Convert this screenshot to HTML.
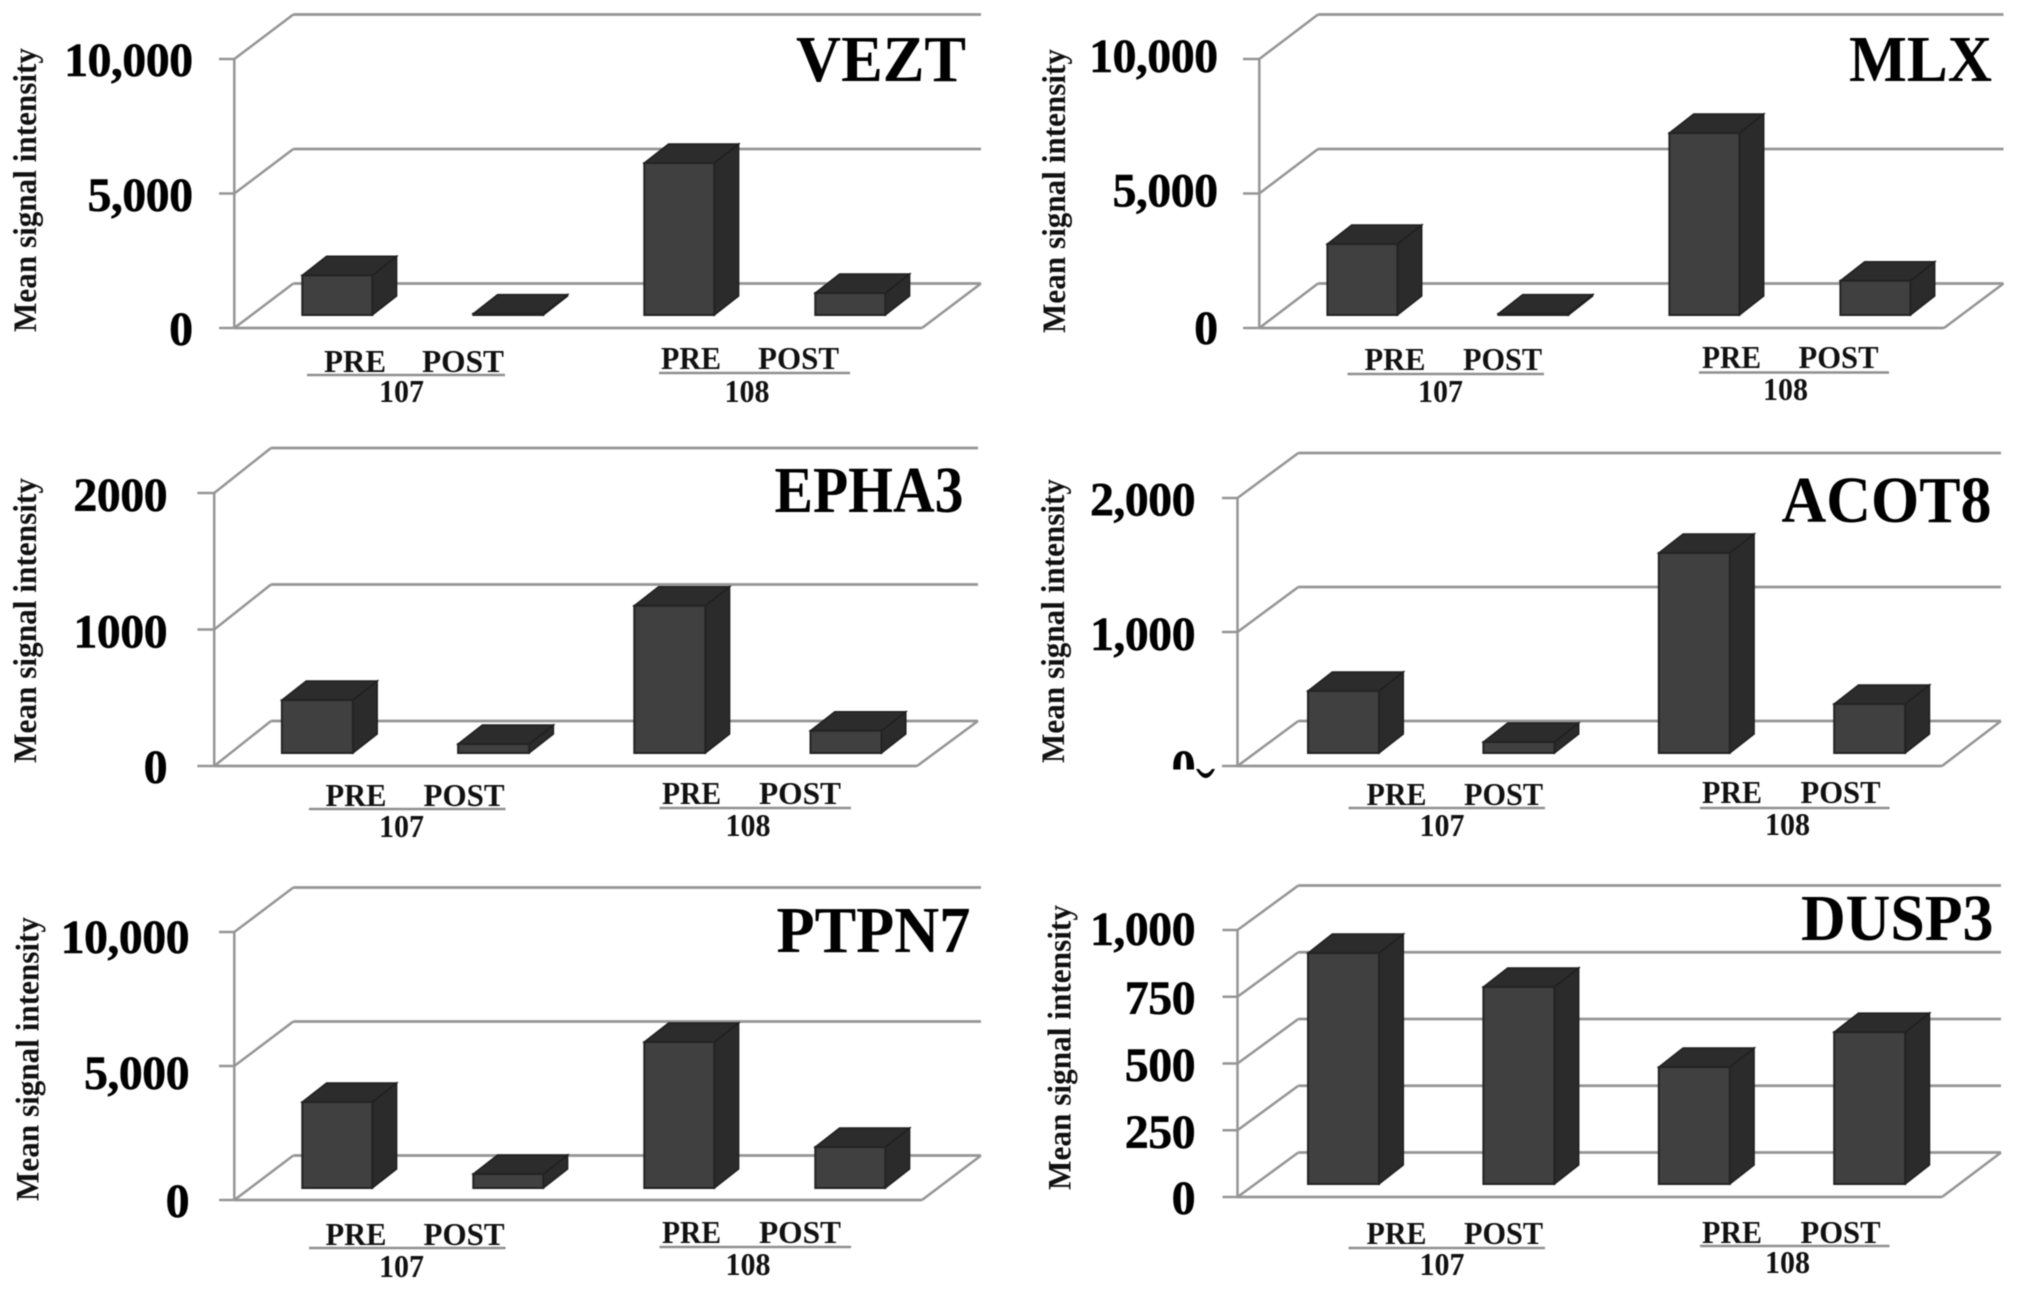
<!DOCTYPE html>
<html lang="en">
<head>
<meta charset="utf-8">
<title>Mean signal intensity of six genes, pre and post</title>
<style>
html,body{margin:0;padding:0;background:#fff;}
svg{display:block;filter:blur(0.6px);}
text{font-family:"Liberation Serif",serif;font-weight:bold;fill:#000;}
.title{font-size:66px;}
.ytitle{font-size:33px;fill:#111;}
.cond{font-size:32px;fill:#111;}
.tick{font-size:48px;stroke:#000;stroke-width:0.5px;text-anchor:end;letter-spacing:-0.6px;}
</style>
</head>
<body>
<svg id="figure" xmlns="http://www.w3.org/2000/svg" width="2031" height="1299" viewBox="0 0 2031 1299">
<rect width="2031" height="1299" fill="#fff"/>
<defs><clipPath id="zero-clip"><rect x="1160" y="745" width="36" height="24.5"/></clipPath></defs>
<g id="marks"></g>

<text class="title" x="796" y="81" textLength="170" lengthAdjust="spacingAndGlyphs">VEZT</text>
<text class="ytitle" transform="translate(36,332) rotate(-90)" textLength="284" lengthAdjust="spacingAndGlyphs">Mean signal intensity</text>
<text class="cond" x="324" y="372" textLength="62" lengthAdjust="spacingAndGlyphs">PRE</text>
<text class="cond" x="422" y="372" textLength="82" lengthAdjust="spacingAndGlyphs">POST</text>
<text class="cond" x="379" y="402" textLength="45" lengthAdjust="spacingAndGlyphs">107</text>
<text class="cond" x="661" y="369" textLength="60" lengthAdjust="spacingAndGlyphs">PRE</text>
<text class="cond" x="758" y="369" textLength="81" lengthAdjust="spacingAndGlyphs">POST</text>
<text class="cond" x="724.5" y="402" textLength="45" lengthAdjust="spacingAndGlyphs">108</text>
<line x1="307" x2="505" y1="375" y2="375" stroke="#8f8f8f" stroke-width="2.5"/>
<line x1="659" x2="850" y1="373" y2="373" stroke="#8f8f8f" stroke-width="2.5"/>

<text class="title" x="1849" y="81" textLength="143" lengthAdjust="spacingAndGlyphs">MLX</text>
<text class="ytitle" transform="translate(1065,333) rotate(-90)" textLength="284" lengthAdjust="spacingAndGlyphs">Mean signal intensity</text>
<text class="cond" x="1364.5" y="370" textLength="61" lengthAdjust="spacingAndGlyphs">PRE</text>
<text class="cond" x="1463" y="370" textLength="79" lengthAdjust="spacingAndGlyphs">POST</text>
<text class="cond" x="1418" y="402" textLength="45" lengthAdjust="spacingAndGlyphs">107</text>
<text class="cond" x="1702" y="368" textLength="59" lengthAdjust="spacingAndGlyphs">PRE</text>
<text class="cond" x="1798.5" y="368" textLength="80" lengthAdjust="spacingAndGlyphs">POST</text>
<text class="cond" x="1763" y="400" textLength="45" lengthAdjust="spacingAndGlyphs">108</text>
<line x1="1347.5" x2="1544" y1="374" y2="374" stroke="#8f8f8f" stroke-width="2.5"/>
<line x1="1699" x2="1889" y1="372.5" y2="372.5" stroke="#8f8f8f" stroke-width="2.5"/>

<text class="title" x="774.5" y="512" textLength="189" lengthAdjust="spacingAndGlyphs">EPHA3</text>
<text class="ytitle" transform="translate(36,763) rotate(-90)" textLength="285" lengthAdjust="spacingAndGlyphs">Mean signal intensity</text>
<text class="cond" x="325.5" y="806" textLength="61" lengthAdjust="spacingAndGlyphs">PRE</text>
<text class="cond" x="423.5" y="806" textLength="81" lengthAdjust="spacingAndGlyphs">POST</text>
<text class="cond" x="379" y="837" textLength="45" lengthAdjust="spacingAndGlyphs">107</text>
<text class="cond" x="662" y="804" textLength="59" lengthAdjust="spacingAndGlyphs">PRE</text>
<text class="cond" x="759" y="804" textLength="82" lengthAdjust="spacingAndGlyphs">POST</text>
<text class="cond" x="725.5" y="836" textLength="45" lengthAdjust="spacingAndGlyphs">108</text>
<line x1="309" x2="505.5" y1="809" y2="809" stroke="#8f8f8f" stroke-width="2.5"/>
<line x1="659.5" x2="851" y1="808" y2="808" stroke="#8f8f8f" stroke-width="2.5"/>

<text class="title" x="1781.5" y="522" textLength="210" lengthAdjust="spacingAndGlyphs">ACOT8</text>
<text class="ytitle" transform="translate(1064,763) rotate(-90)" textLength="284" lengthAdjust="spacingAndGlyphs">Mean signal intensity</text>
<text class="cond" x="1366.5" y="805" textLength="60" lengthAdjust="spacingAndGlyphs">PRE</text>
<text class="cond" x="1464" y="805" textLength="79" lengthAdjust="spacingAndGlyphs">POST</text>
<text class="cond" x="1419.5" y="836" textLength="45" lengthAdjust="spacingAndGlyphs">107</text>
<text class="cond" x="1702" y="803" textLength="60" lengthAdjust="spacingAndGlyphs">PRE</text>
<text class="cond" x="1800.5" y="803" textLength="80" lengthAdjust="spacingAndGlyphs">POST</text>
<text class="cond" x="1765" y="835" textLength="45" lengthAdjust="spacingAndGlyphs">108</text>
<line x1="1348.5" x2="1545" y1="808" y2="808" stroke="#8f8f8f" stroke-width="2.5"/>
<line x1="1700" x2="1889.5" y1="808" y2="808" stroke="#8f8f8f" stroke-width="2.5"/>
<path d="M1196 769 L1199 769 Q1205.5 778 1212 769 L1215 769 Q1206 787 1196 769 Z" fill="#000"/>

<text class="title" x="776.5" y="952" textLength="194" lengthAdjust="spacingAndGlyphs">PTPN7</text>
<text class="ytitle" transform="translate(38.5,1201) rotate(-90)" textLength="284" lengthAdjust="spacingAndGlyphs">Mean signal intensity</text>
<text class="cond" x="325.5" y="1245" textLength="61" lengthAdjust="spacingAndGlyphs">PRE</text>
<text class="cond" x="423.5" y="1245" textLength="81" lengthAdjust="spacingAndGlyphs">POST</text>
<text class="cond" x="379" y="1277" textLength="45" lengthAdjust="spacingAndGlyphs">107</text>
<text class="cond" x="662" y="1243" textLength="59" lengthAdjust="spacingAndGlyphs">PRE</text>
<text class="cond" x="759" y="1243" textLength="82" lengthAdjust="spacingAndGlyphs">POST</text>
<text class="cond" x="725.5" y="1275" textLength="45" lengthAdjust="spacingAndGlyphs">108</text>
<line x1="309" x2="505.5" y1="1248" y2="1248" stroke="#8f8f8f" stroke-width="2.5"/>
<line x1="659.5" x2="851" y1="1247" y2="1247" stroke="#8f8f8f" stroke-width="2.5"/>

<text class="title" x="1801" y="940" textLength="192.5" lengthAdjust="spacingAndGlyphs">DUSP3</text>
<text class="ytitle" transform="translate(1070.5,1190) rotate(-90)" textLength="285" lengthAdjust="spacingAndGlyphs">Mean signal intensity</text>
<text class="cond" x="1366.5" y="1244" textLength="60" lengthAdjust="spacingAndGlyphs">PRE</text>
<text class="cond" x="1464" y="1244" textLength="79" lengthAdjust="spacingAndGlyphs">POST</text>
<text class="cond" x="1419.5" y="1275" textLength="45" lengthAdjust="spacingAndGlyphs">107</text>
<text class="cond" x="1702" y="1243" textLength="60" lengthAdjust="spacingAndGlyphs">PRE</text>
<text class="cond" x="1800.5" y="1243" textLength="80" lengthAdjust="spacingAndGlyphs">POST</text>
<text class="cond" x="1765" y="1273" textLength="45" lengthAdjust="spacingAndGlyphs">108</text>
<line x1="1348.5" x2="1545" y1="1248" y2="1248" stroke="#8f8f8f" stroke-width="2.5"/>
<line x1="1700" x2="1889.5" y1="1246" y2="1246" stroke="#8f8f8f" stroke-width="2.5"/>
</svg>
<script>
// Chart data
const categories = ['107-pre', '107-post', '108-pre', '108-post'];
const veztValues = [1476, 50, 5650, 818];
const mlxValues = [2640, 50, 6766, 1275];
const epha3Values = [388, 66, 1079, 163];
const acot8Values = [463, 82, 1493, 366];
const ptpn7Values = [3209, 522, 5448, 1530];
const dusp3Values = [865, 738, 438, 569];
const veztTicks = [0, 5000, 10000];
const mlxTicks = [0, 5000, 10000];
const epha3Ticks = [0, 1000, 2000];
const acot8Ticks = [0, 1000, 2000];
const ptpn7Ticks = [0, 5000, 10000];
const dusp3Ticks = [0, 250, 500, 750, 1000];
const veztTickLabels = ['0', '5,000', '10,000'];
const mlxTickLabels = ['0', '5,000', '10,000'];
const epha3TickLabels = ['0', '1000', '2000'];
const acot8TickLabels = ['0', '1,000', '2,000'];
const ptpn7TickLabels = ['0', '5,000', '10,000'];
const dusp3TickLabels = ['0', '250', '500', '750', '1,000'];

// Panel layout (pixel geometry only; no data values)
const layouts = [
  {id:'vezt', values:veztValues, ticks:veztTicks, labels:veztTickLabels, axisX:234.3, y0:328, yTop:59, backDx:59, backDy:44.5, frontRight:922, backEnd:981, tickLeft:219, labelRight:192.5, labelDy:[17,17.5,17], barStart:302.3, barStep:171, barW:70, base:315},
  {id:'mlx', values:mlxValues, ticks:mlxTicks, labels:mlxTickLabels, axisX:1259.3, y0:328, yTop:59, backDx:58.7, backDy:44.5, frontRight:1944, backEnd:2003.5, tickLeft:1243, labelRight:1217.5, labelDy:[16,13.2,13], barStart:1327.4, barStep:171, barW:70, base:315},
  {id:'epha3', values:epha3Values, ticks:epha3Ticks, labels:epha3TickLabels, axisX:214.2, y0:766, yTop:493, backDx:56.8, backDy:45, frontRight:917, backEnd:978, tickLeft:197.4, labelRight:167, labelDy:[17,18,18], barStart:281.9, barStep:176.2, barW:71, base:753},
  {id:'acot8', values:acot8Values, ticks:acot8Ticks, labels:acot8TickLabels, axisX:1237.5, y0:766, yTop:498, backDx:60.8, backDy:45, frontRight:1942, backEnd:2001, tickLeft:1222, labelRight:1195, labelDy:[4,18,17.5], barStart:1308, barStep:175.4, barW:71, base:753, clipZero:true},
  {id:'ptpn7', values:ptpn7Values, ticks:ptpn7Ticks, labels:ptpn7TickLabels, axisX:234.3, y0:1200, yTop:932, backDx:59, backDy:44.5, frontRight:922, backEnd:981, tickLeft:219, labelRight:189, labelDy:[17,23,21], barStart:302.3, barStep:171, barW:70, base:1188},
  {id:'dusp3', values:dusp3Values, ticks:dusp3Ticks, labels:dusp3TickLabels, axisX:1237.5, y0:1197, yTop:930, backDx:60.8, backDy:44.5, frontRight:1942, backEnd:2001, tickLeft:1222.5, labelRight:1195, labelDy:[17,17.5,17.5,17,15], barStart:1308, barStep:175.4, barW:71, base:1184}
];

const SVG_NS = 'http://www.w3.org/2000/svg';
const marks = document.getElementById('marks');
const BAR_DX = 24.3, BAR_DY = 19;
const GRID = '#959595';

function make(tag, attrs, parent) {
  const el = document.createElementNS(SVG_NS, tag);
  for (const k in attrs) el.setAttribute(k, attrs[k]);
  parent.appendChild(el);
  return el;
}
function axisMax(p) { return p.ticks[p.ticks.length - 1]; }
function yScale(p, v) { return p.y0 - v / axisMax(p) * (p.y0 - p.yTop); }
function barHeight(p, v) { return v / axisMax(p) * (p.y0 - p.yTop); }
function xScale(p, i) { return p.barStart + i * p.barStep; }

layouts.forEach(function (p) {
  const g = make('g', {}, marks);
  
  

  const axis = make('line', {x1:p.axisX, x2:p.axisX, y1:p.y0, y2:p.yTop, stroke:GRID, 'stroke-width':2.5}, g);
  
  

  p.ticks.forEach(function (t, i) {
    const y = yScale(p, t);
    const tick = make('line', {x1:p.tickLeft, x2:p.axisX, y1:y, y2:y, stroke:GRID, 'stroke-width':2.5}, g);
    
    

    const diag = make('line', {x1:p.axisX, y1:y, x2:p.axisX + p.backDx, y2:y - p.backDy, stroke:GRID, 'stroke-width':2.5}, g);
    
    

    const grid = make('line', {x1:p.axisX + p.backDx, x2:p.backEnd, y1:y - p.backDy, y2:y - p.backDy, stroke:GRID, 'stroke-width':2.8}, g);
    
    

    const label = make('text', {class:'tick', x:p.labelRight, y:y + p.labelDy[i]}, g);
    label.textContent = p.labels[i];
    if (p.clipZero && t === 0) label.setAttribute('clip-path', 'url(#zero-clip)');
    if (p.clipZero && t === 0) label.setAttribute('y', y + 17);
    
    
  });

  const front = make('line', {x1:p.axisX, x2:p.frontRight, y1:p.y0, y2:p.y0, stroke:GRID, 'stroke-width':2.8}, g);
  
  

  const side = make('line', {x1:p.frontRight, y1:p.y0, x2:p.backEnd, y2:p.y0 - p.backDy, stroke:GRID, 'stroke-width':2.5}, g);
  
  

  p.values.forEach(function (v, i) {
    const x = xScale(p, i);
    const w = p.barW;
    const h = barHeight(p, v);
    const b = p.base;
    const top = b - h;
    const bar = make('g', {}, g);
    
    

    const sideFace = make('polygon', {points:[x+w,b, x+w+BAR_DX,b-BAR_DY, x+w+BAR_DX,top-BAR_DY, x+w,top].join(','), fill:'#2b2b2b', stroke:'#1f1f1f', 'stroke-width':1.5}, bar);
    
    

    const topFace = make('polygon', {points:[x,top, x+BAR_DX,top-BAR_DY, x+w+BAR_DX,top-BAR_DY, x+w,top].join(','), fill:'#2c2c2c', stroke:'#1f1f1f', 'stroke-width':1.5}, bar);
    
    

    const frontFace = make('rect', {x:x, y:top, width:w, height:Math.max(h, 1), fill:'#404040', stroke:'#232323', 'stroke-width':2}, bar);
    
    
  });
});
</script>
</body>
</html>
